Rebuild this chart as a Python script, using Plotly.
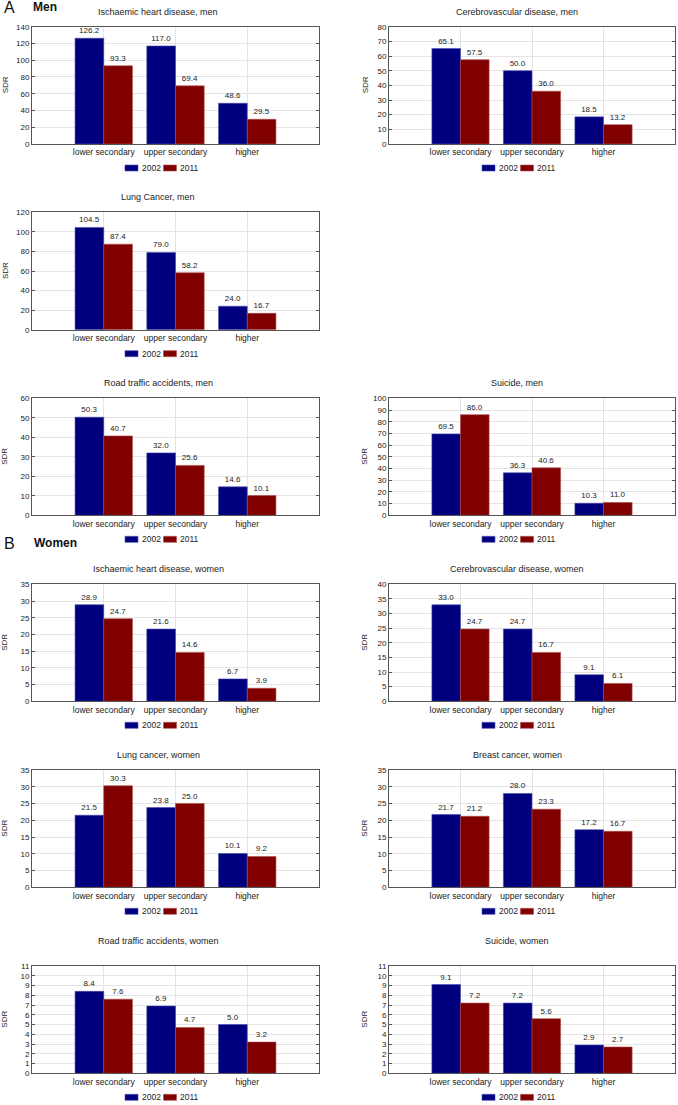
import plotly.graph_objects as go

W, H = 678, 1105

categories = ["lower secondary", "upper secondary", "higher"]
series_names = ["2002", "2011"]

titles = [
    "Ischaemic heart disease, men",
    "Cerebrovascular disease, men",
    "Lung Cancer, men",
    "Road traffic accidents, men",
    "Suicide, men",
    "Ischaemic heart disease, women",
    "Cerebrovascular disease, women",
    "Lung cancer, women",
    "Breast cancer, women",
    "Road traffic accidents, women",
    "Suicide, women",
]

values_2002 = [
    [126.2, 117.0, 48.6],
    [65.1, 50.0, 18.5],
    [104.5, 79.0, 24.0],
    [50.3, 32.0, 14.6],
    [69.5, 36.3, 10.3],
    [28.9, 21.6, 6.7],
    [33.0, 24.7, 9.1],
    [21.5, 23.8, 10.1],
    [21.7, 28.0, 17.2],
    [8.4, 6.9, 5.0],
    [9.1, 7.2, 2.9],
]

values_2011 = [
    [93.3, 69.4, 29.5],
    [57.5, 36.0, 13.2],
    [87.4, 58.2, 16.7],
    [40.7, 25.6, 10.1],
    [86.0, 40.6, 11.0],
    [24.7, 14.6, 3.9],
    [24.7, 16.7, 6.1],
    [30.3, 25.0, 9.2],
    [21.2, 23.3, 16.7],
    [7.6, 4.7, 3.2],
    [7.2, 5.6, 2.7],
]

y_max = [140, 80, 120, 60, 100, 35, 40, 35, 35, 11, 11]
y_step = [20, 10, 20, 10, 10, 5, 5, 5, 5, 1, 1]

# layout (pixel positions): column, top, bottom of each plot area
panel_col = [0, 1, 0, 0, 1, 0, 1, 0, 1, 0, 1]
panel_top = [26.7, 26.7, 212.3, 398.3, 398.3, 584.3, 584.3, 770, 770, 966, 966]
panel_bot = [144, 144, 329.7, 515.3, 515.3, 701.3, 701.3, 887.3, 887.3, 1073.3, 1073.3]
col_x = [(32, 319), (389, 675)]
col_center = [158, 517]
legend_center = [160, 517]

colors = ["#00007f", "#800000"]
line_colors = ["#4a4ab0", "#b04a4a"]
FONT = "Arial, Liberation Sans, sans-serif"
TXT = "#222222"


def px_x(x):
    return x / W


def px_y(y):
    return 1 - y / H


fig = go.Figure()
annotations = []
shapes = []
layout = {}

for i in range(len(titles)):
    n = "" if i == 0 else str(i + 1)
    x0, x1 = col_x[panel_col[i]]
    top, bot = panel_top[i], panel_bot[i]
    for s, vals in enumerate([values_2002[i], values_2011[i]]):
        fig.add_trace(go.Bar(
            x=categories, y=vals, name=series_names[s],
            xaxis="x" + n, yaxis="y" + n, showlegend=False,
            marker=dict(color=colors[s], line=dict(color=line_colors[s], width=0.6)),
            texttemplate="%{y:.1f}", textposition="outside",
            textfont=dict(family=FONT, size=8, color=TXT),
            cliponaxis=False, hoverinfo="x+y",
        ))
    layout["xaxis" + n] = dict(
        domain=[px_x(x0), px_x(x1)], anchor="y" + n,
        type="category", range=[-1, 3],
        showgrid=True, gridcolor="#e4e4e4", gridwidth=1,
        showline=True, linecolor="#555555", linewidth=1, mirror=True,
        ticks="", tickangle=0, automargin=False,
        tickfont=dict(family=FONT, size=8.5, color=TXT),
        fixedrange=True,
    )
    layout["yaxis" + n] = dict(
        domain=[px_y(bot), px_y(top)], anchor="x" + n,
        range=[0, y_max[i]], dtick=y_step[i], tick0=0,
        showgrid=True, gridcolor="#e4e4e4", gridwidth=1,
        showline=True, linecolor="#555555", linewidth=1, mirror="ticks",
        ticks="inside", ticklen=3, tickcolor="#555555", automargin=False,
        tickfont=dict(family=FONT, size=8, color=TXT),
        zeroline=False, fixedrange=True,
    )
    # legend (per panel): swatch + label for each series
    lc = legend_center[panel_col[i]]
    ly = bot + 24
    for s in range(2):
        sx = lc - 35 + s * 38.5
        shapes.append(dict(
            type="rect", xref="paper", yref="paper",
            x0=px_x(sx), x1=px_x(sx + 13), y0=px_y(ly + 3), y1=px_y(ly - 3),
            fillcolor=colors[s], line=dict(color=line_colors[s], width=0.6),
        ))
        annotations.append(dict(
            text=series_names[s], x=px_x(sx + 14.5), y=px_y(ly),
            xref="paper", yref="paper", xanchor="left", yanchor="middle",
            showarrow=False, font=dict(family=FONT, size=8.5, color=TXT),
        ))
    # panel title
    annotations.append(dict(
        text=titles[i], x=px_x(col_center[panel_col[i]]), y=px_y(top - 15 if i < 9 else top - 25),
        xref="paper", yref="paper", xanchor="center", yanchor="middle",
        showarrow=False, font=dict(family=FONT, size=9, color=TXT),
    ))
    # y-axis title
    annotations.append(dict(
        text="SDR", x=px_x(5 if panel_col[i] == 0 else 365), y=px_y((top + bot) / 2),
        xref="paper", yref="paper", xanchor="center", yanchor="middle",
        textangle=-90, showarrow=False, font=dict(family=FONT, size=8, color=TXT),
    ))

# section headings
annotations += [
    dict(text="A", x=px_x(2), y=px_y(8), xref="paper", yref="paper",
         xanchor="left", yanchor="middle", showarrow=False,
         font=dict(family=FONT, size=16, color="#111111")),
    dict(text="<b>Men</b>", x=px_x(31), y=px_y(7), xref="paper", yref="paper",
         xanchor="left", yanchor="middle", showarrow=False,
         font=dict(family=FONT, size=12, color="#111111")),
    dict(text="B", x=px_x(2), y=px_y(543), xref="paper", yref="paper",
         xanchor="left", yanchor="middle", showarrow=False,
         font=dict(family=FONT, size=16, color="#111111")),
    dict(text="<b>Women</b>", x=px_x(32), y=px_y(543), xref="paper", yref="paper",
         xanchor="left", yanchor="middle", showarrow=False,
         font=dict(family=FONT, size=12, color="#111111")),
]

fig.update_layout(
    width=W, height=H, margin=dict(l=0, r=0, t=0, b=0, autoexpand=False),
    paper_bgcolor="white", plot_bgcolor="white",
    barmode="group", bargap=0.2, bargroupgap=0,
    annotations=annotations, shapes=shapes, showlegend=False,
    font=dict(family=FONT, color=TXT),
    **layout,
)

fig.write_html("out.html", config={"displayModeBar": False},
               post_script="document.body.style.margin='0';")
